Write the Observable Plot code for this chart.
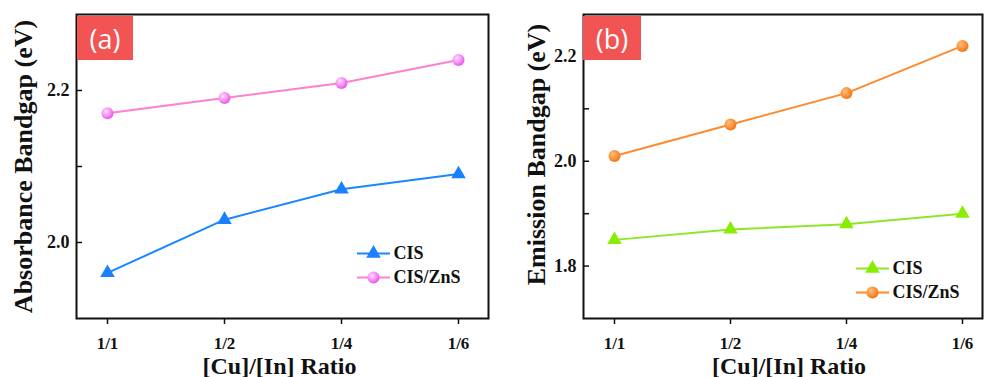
<!DOCTYPE html>
<html>
<head>
<meta charset="utf-8">
<script src="https://cdn.jsdelivr.net/npm/d3@7"></script>
<script src="https://cdn.jsdelivr.net/npm/@observablehq/plot@0.6"></script>
<style>
  html, body { margin: 0; padding: 0; background: #fff; }
  #wrap { display: flex; width: 984px; height: 377px; overflow: hidden; }
  .panel { position: relative; }
  .tag {
    position: absolute; top: 16px; height: 44px;
    background: #f25454; color: #fff;
    font-family: "Open Sans", sans-serif; font-size: 27px; font-weight: 500;
    display: flex; align-items: center; justify-content: center;
  }
</style>
</head>
<body>
<div id="wrap">
  <div class="panel" id="pa"><div class="tag" style="left:77px;width:56px;">(a)</div></div>
  <div class="panel" id="pb"><div class="tag" style="left:93px;width:58px;">(b)</div></div>
</div>
<script>
// [Cu]/[In] precursor ratios along the x axis
const ratios = ["1/1", "1/2", "1/4", "1/6"];
const seriesNames = ["CIS", "CIS/ZnS"];

// Absorbance bandgap (eV)
const absCIS = [1.96, 2.03, 2.07, 2.09];
const absCISZnS = [2.17, 2.19, 2.21, 2.24];

// Emission bandgap (eV)
const emCIS = [1.85, 1.87, 1.88, 1.90];
const emCISZnS = [2.01, 2.07, 2.13, 2.22];

// y tick values
const absTickLabels = [2.0, 2.2];
const absTicks = [2.0, 2.1, 2.2];
const emTickLabels = [1.8, 2.0, 2.2];
const emTicks = [1.8, 1.9, 2.0, 2.1, 2.2];

const serif = "'Liberation Serif', 'Times New Roman', serif";

const rows = (vals) => ratios.map((r, i) => ({ratio: r, value: vals[i]}));

// a short horizontal stroke used as the legend's line sample
const lineGlyph = (half) => ({
  draw(ctx) { ctx.moveTo(-half, 0); ctx.lineTo(half, 0); }
});

function panel(opts) {
  const {width, marginLeft, domain, insetRight, series, tickLabels, ticks, yTitle, yTitleDx, yTitleDy, xTitleDx, legend} = opts;
  const marks = [
    Plot.frame({stroke: "#111", strokeWidth: 2}),
    Plot.axisX({tickSize: 6, tickPadding: 12, fontSize: 17, fontWeight: "bold", label: null, strokeWidth: 1.5}),
    Plot.axisY({ticks: tickLabels, tickSize: 0, tickPadding: 7, fontSize: 18, fontWeight: "bold", tickFormat: d3.format(".1f"), label: null}),
    Plot.axisY({ticks, tickSize: -6, tickFormat: () => "", label: null, strokeWidth: 1.5}),
    Plot.text([yTitle], {text: d => d, frameAnchor: "left", dx: yTitleDx, dy: yTitleDy, rotate: -90,
      textAnchor: "middle", lineAnchor: "middle",
      fontSize: 26, fontWeight: "bold", fontFamily: serif, fill: "#111"}),
    Plot.text(["[Cu]/[In] Ratio"], {text: d => d, frameAnchor: "bottom", dx: xTitleDx, dy: 48,
      textAnchor: "middle", lineAnchor: "middle",
      fontSize: 24, fontWeight: "bold", fontFamily: serif, fill: "#111"})
  ];
  for (const s of series) {
    marks.push(Plot.line(rows(s.values), {x: "ratio", y: "value", stroke: s.line, strokeWidth: 2}));
    marks.push(Plot.dot(rows(s.values), {x: "ratio", y: "value", symbol: s.symbol, r: s.r, fill: s.fill, stroke: null}));
  }
  series.forEach((s, i) => {
    const dy = legend.rowDy[i];
    marks.push(Plot.dot([s.name], {frameAnchor: "bottom-right", dx: legend.markDx, dy, symbol: lineGlyph(16.5), stroke: s.line, strokeWidth: 2, fill: "none"}));
    marks.push(Plot.dot([s.name], {frameAnchor: "bottom-right", dx: legend.markDx, dy, symbol: s.symbol, r: s.r, fill: s.fill, stroke: null}));
    marks.push(Plot.text([s.name], {text: d => d, frameAnchor: "bottom-right", dx: legend.textDx, dy, textAnchor: "start", lineAnchor: "middle",
      fontSize: 18, fontWeight: "bold", fontFamily: serif, fill: "#111"}));
  });
  const svg = Plot.plot({
    width, height: 377,
    marginLeft, marginRight: 2, marginTop: 14, marginBottom: 59,
    style: {fontFamily: serif, fontWeight: "bold", color: "#111", background: "#fff", overflow: "visible"},
    x: {type: "point", domain: ratios, padding: 0.25, insetRight},
    y: {domain},
    marks
  });
  // shaded sphere fills for the circular markers
  const defs = d3.select(svg).insert("defs", ":first-child");
  for (const g of opts.gradients) {
    const rg = defs.append("radialGradient").attr("id", g.id).attr("cx", "38%").attr("cy", "35%").attr("r", "62%");
    rg.append("stop").attr("offset", "0%").attr("stop-color", g.light);
    rg.append("stop").attr("offset", "100%").attr("stop-color", g.dark);
  }
  return svg;
}

document.getElementById("pa").prepend(panel({
  width: 490, marginLeft: 76, domain: [1.9, 2.3], insetRight: 0,
  tickLabels: absTickLabels, ticks: absTicks,
  yTitle: "Absorbance Bandgap (eV)", yTitleDx: -53, yTitleDy: 0, xTitleDx: -3,
  series: [
    {name: seriesNames[0], values: absCIS, line: "#1a86ff", fill: "#1a80ff", symbol: "triangle", r: 5.4},
    {name: seriesNames[1], values: absCISZnS, line: "#ff80cc", fill: "url(#gPink)", symbol: "circle", r: 6}
  ],
  gradients: [{id: "gPink", light: "#ffe0ff", dark: "#ee5cee"}],
  legend: {markDx: -115, textDx: -95, rowDy: [-65, -41]}
}));

document.getElementById("pb").prepend(panel({
  width: 494, marginLeft: 93, domain: [1.7, 2.28], insetRight: -10,
  tickLabels: emTickLabels, ticks: emTicks,
  yTitle: "Emission Bandgap (eV)", yTitleDx: -47, yTitleDy: -12, xTitleDx: 6,
  series: [
    {name: seriesNames[0], values: emCIS, line: "#8ee62a", fill: "#88ee00", symbol: "triangle", r: 5.4},
    {name: seriesNames[1], values: emCISZnS, line: "#ff8a2e", fill: "url(#gOrange)", symbol: "circle", r: 6}
  ],
  gradients: [{id: "gOrange", light: "#ffc080", dark: "#f57814"}],
  legend: {markDx: -110, textDx: -90, rowDy: [-50, -26]}
}));
</script>
</body>
</html>
